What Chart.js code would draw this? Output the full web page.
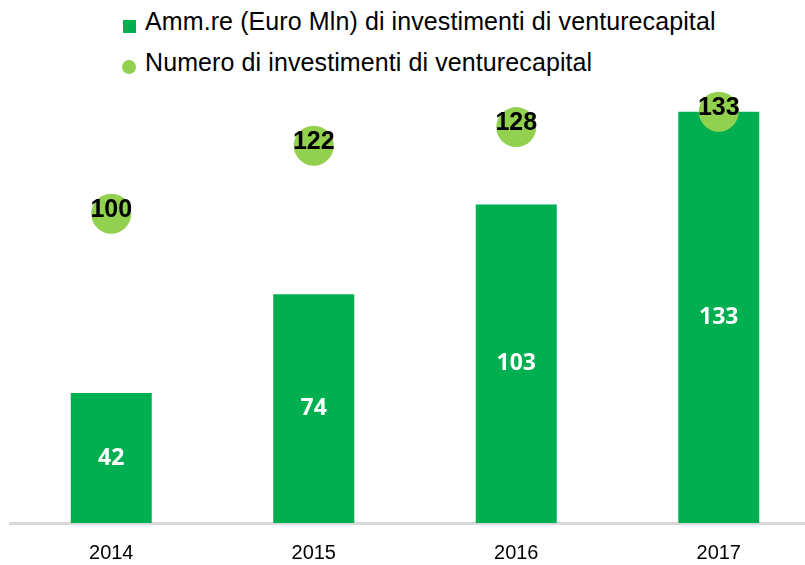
<!DOCTYPE html>
<html>
<head>
<meta charset="utf-8">
<script src="https://cdn.jsdelivr.net/npm/chart.js@4"></script>
<style>
  html, body { margin: 0; padding: 0; background: #fff; overflow: hidden; }
  #wrap { position: relative; width: 805px; height: 565px; overflow: hidden; }
  #wrap canvas { position: absolute; left: -10px; top: 0; }
  .leg { position: absolute; left: 145px; font-family: "Liberation Sans", Arial, sans-serif;
         font-size: 25px; color: #000; white-space: nowrap; line-height: 1; letter-spacing: 0.1px; }
  .mk { position: absolute; }
</style>
</head>
<body>
<div id="wrap">
  <div class="mk" style="left:123px;top:20px;width:13px;height:13px;background:#00b050"></div>
  <div class="leg" id="leg1" style="top:9px"></div>
  <div class="mk" style="left:122px;top:60px;width:14px;height:14px;border-radius:50%;background:#92d050"></div>
  <div class="leg" id="leg2" style="top:50px"></div>
  <canvas id="chart-vc" width="850" height="565" style="width:850px;height:565px"></canvas>
</div>
<script>
// dati
var anni = ["2014", "2015", "2016", "2017"];
var ammontare = [42, 74, 103, 133];
var numero = [100, 122, 128, 133];
var nomeAmm = "Amm.re (Euro Mln) di investimenti di venturecapital";
var nomeNum = "Numero di investimenti di venturecapital";

document.getElementById("leg1").textContent = nomeAmm;
document.getElementById("leg2").textContent = nomeNum;

// etichette sui dati
var etichette = {
    id: 'etichette',
    afterDatasetsDraw: function(chart) {
	var ctx = chart.ctx;
	ctx.save();
	ctx.textAlign = 'center';
	ctx.textBaseline = 'middle';

	var bars = chart.getDatasetMeta(1).data;
	ctx.fillStyle = '#fff';
	ctx.font = 'bold 23px "Open Sans", "Liberation Sans", sans-serif';
	bars.forEach(function(b, i) {
	    ctx.fillText(String(ammontare[i]), b.x, (b.y + b.base) / 2);
	});

	var punti = chart.getDatasetMeta(0).data;
	ctx.fillStyle = '#000';
	ctx.font = 'bold 25px "Liberation Sans", sans-serif';
	punti.forEach(function(p, i) {
	    ctx.fillText(String(numero[i]), p.x, p.y - 4);
	});
	ctx.restore();
    }
};

var config = {
    type: 'bar',
    data: {
	labels: anni,
	datasets: [
	    {
		type: 'line',
		label: nomeNum,
		data: numero,
		showLine: false,
		pointRadius: 20,
		pointHoverRadius: 20,
		pointBackgroundColor: '#92d050',
		pointBorderWidth: 0,
		backgroundColor: '#92d050',
		clip: false,
		order: 0
	    },
	    {
		label: nomeAmm,
		data: ammontare,
		backgroundColor: '#00b050',
		barPercentage: 0.4,
		categoryPercentage: 1.0,
		order: 1
	    }
	]
    },
    options: {
	responsive: false,
	animation: false,
	layout: { padding: { left: 0, right: 0, top: 90, bottom: 0 } },
	plugins: {
	    legend: { display: false },
	    tooltip: { enabled: false }
	},
	scales: {
	    x: {
		grid: { display: false, drawTicks: false },
		border: { color: '#d9d9d9', width: 3 },
		ticks: {
		    color: '#000',
		    padding: 18,
		    font: { family: '"Liberation Sans", sans-serif', size: 20 }
		},
		afterFit: function(s) { s.height = 42; }
	    },
	    y: {
		display: false,
		min: 0,
		max: 140
	    }
	}
    },
    plugins: [etichette]
};

var ctx = document.getElementById("chart-vc").getContext("2d");
window.grafico = new Chart(ctx, config);
</script>
</body>
</html>
